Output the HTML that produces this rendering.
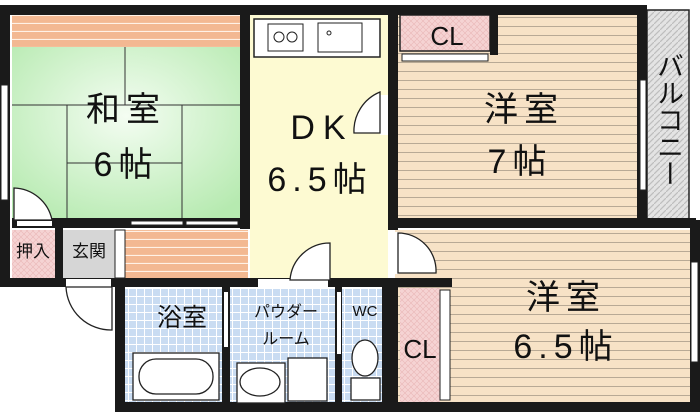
<!DOCTYPE html>
<html><head><meta charset="utf-8"><style>
html,body{margin:0;padding:0;background:#fff;width:700px;height:415px;overflow:hidden}
text{font-family:"Liberation Sans","Noto Sans CJK JP",sans-serif;fill:#111}
</style></head><body>
<svg width="700" height="415" viewBox="0 0 700 415" xmlns="http://www.w3.org/2000/svg">
<defs>
<pattern id="stripe" width="10" height="9" patternUnits="userSpaceOnUse"><rect width="10" height="9" fill="#f7e2c6"/><line x1="0" y1="8.5" x2="10" y2="8.5" stroke="#a89a88" stroke-width="0.8"/></pattern>
<pattern id="orange" width="10" height="8" patternUnits="userSpaceOnUse"><rect width="10" height="8" fill="#f3b892"/><line x1="0" y1="7.5" x2="10" y2="7.5" stroke="#fff1e6" stroke-width="1.2"/></pattern>
<pattern id="grid" width="8" height="8" patternUnits="userSpaceOnUse"><rect width="8" height="8" fill="#c9dcf2"/><path d="M0 .5H8M.5 0V8" stroke="#fff" stroke-width="1"/></pattern>
<pattern id="pink" width="6" height="6" patternUnits="userSpaceOnUse"><rect width="6" height="6" fill="#f5d3d3"/><path d="M0 0L6 6M6 0L0 6" stroke="#e9b7b7" stroke-width="0.6"/></pattern>
<pattern id="gray" width="6" height="6" patternUnits="userSpaceOnUse"><rect width="6" height="6" fill="#e3e3e3"/><path d="M0 6L6 0" stroke="#bdbdbd" stroke-width="1.2"/></pattern>
<radialGradient id="tat" cx="0.5" cy="0.4" r="0.7"><stop offset="0" stop-color="#f4fdf2"/><stop offset="1" stop-color="#b6eab0"/></radialGradient>
</defs>
<rect x="12" y="15" width="228" height="32" fill="url(#orange)"/>
<rect x="12" y="47" width="228" height="172" fill="url(#tat)"/>
<g stroke="#333" stroke-width="1" fill="none">
<line x1="12" y1="105" x2="240" y2="105"/><line x1="125" y1="47" x2="125" y2="105"/>
<line x1="67" y1="105" x2="67" y2="219"/><line x1="182" y1="105" x2="182" y2="219"/>
<line x1="67" y1="163" x2="182" y2="163"/>
</g>
<rect x="250" y="15" width="138" height="270" fill="#fdfad2"/>
<rect x="254" y="19" width="126" height="38" fill="#fff" stroke="#222" stroke-width="1.5"/>
<rect x="268" y="24" width="35" height="27" fill="#fff" stroke="#222"/>
<circle cx="279" cy="37" r="5" fill="none" stroke="#222"/><circle cx="292" cy="37" r="5" fill="none" stroke="#222"/>
<rect x="318" y="23" width="44" height="29" fill="#fff" stroke="#222"/><circle cx="329" cy="33" r="2" fill="none" stroke="#222"/>
<rect x="398" y="15" width="239" height="205" fill="url(#stripe)"/>
<rect x="400" y="15" width="90" height="36" fill="url(#pink)" stroke="#222" stroke-width="1.5"/>
<rect x="647" y="10" width="42" height="210" fill="url(#gray)" stroke="#222" stroke-width="1.5"/>
<rect x="395" y="230" width="295" height="173" fill="url(#stripe)"/>
<rect x="400" y="288" width="40" height="114" fill="url(#pink)"/>
<rect x="12" y="230" width="43" height="48" fill="url(#pink)"/>
<rect x="63" y="230" width="52" height="48" fill="#d6d6d6"/>
<rect x="125" y="230" width="123" height="48" fill="url(#orange)"/>
<rect x="125" y="289" width="263" height="114" fill="url(#grid)"/>
<g fill="#1a1a1a">
<rect x="0" y="5" width="645" height="10"/>
<rect x="0" y="5" width="10" height="282"/>
<rect x="240" y="5" width="10" height="224"/>
<rect x="388" y="5" width="10" height="225"/>
<rect x="637" y="5" width="10" height="222"/>
<rect x="12" y="218" width="236" height="10"/>
<rect x="398" y="218" width="298" height="10"/>
<rect x="0" y="278" width="452" height="9"/>
<rect x="55" y="228" width="8" height="52"/>
<rect x="115" y="278" width="10" height="134"/>
<rect x="115" y="402" width="585" height="10"/>
<rect x="690" y="220" width="10" height="192"/>
<rect x="222" y="287" width="8" height="118"/>
<rect x="335" y="287" width="7" height="118"/>
<rect x="382" y="287" width="16" height="118"/>
<rect x="490" y="15" width="8" height="40"/>
</g>
<rect x="1" y="85" width="7" height="115" fill="#fff" stroke="#222"/>
<rect x="115" y="230" width="10" height="48" fill="#fff" stroke="#222"/>
<rect x="131" y="221" width="52" height="4" fill="#fff" stroke="#222"/>
<rect x="186" y="221" width="52" height="4" fill="#fff" stroke="#222"/>
<rect x="258" y="279" width="70" height="8" fill="#fff"/>
<rect x="66" y="279" width="45" height="8" fill="#fff"/>
<rect x="17" y="221" width="35" height="5" fill="#fff"/>
<rect x="691" y="262" width="7" height="100" fill="#fff" stroke="#222"/>
<rect x="640" y="80" width="6" height="110" fill="#fff" stroke="#222"/>
<rect x="380" y="95" width="8" height="40" fill="#fff"/>
<rect x="392" y="232" width="7" height="42" fill="#fff"/>
<rect x="402" y="54" width="86" height="7" fill="#fff" stroke="#222"/>
<rect x="440" y="290" width="10" height="110" fill="#fff" stroke="#222"/>
<rect x="224" y="292" width="4" height="55" fill="#fff"/>
<rect x="337" y="292" width="4" height="62" fill="#fff"/>
<g fill="#fff" stroke="#222" stroke-width="1.3">
<path d="M14 188 A40 40 0 0 1 52 220 L14 220Z"/>
<path d="M380 92 A42 42 0 0 0 354 133 L380 133Z"/>
<path d="M330 243 A40 40 0 0 0 290 280 L330 280Z"/>
<path d="M398 233 A38 38 0 0 1 436 273 L398 273Z"/>
<path d="M66 287 A45 45 0 0 0 112 330 L112 287Z"/>
</g>
<g fill="#fff" stroke="#222" stroke-width="1.3">
<rect x="133" y="353" width="86" height="47"/><rect x="139" y="359" width="74" height="35" rx="17"/>
<rect x="237" y="363" width="48" height="40"/><ellipse cx="260" cy="382" rx="20" ry="14"/>
<rect x="288" y="358" width="39" height="43"/>
<ellipse cx="365" cy="358" rx="13" ry="18"/><rect x="351" y="378" width="29" height="22"/>
</g>
<g text-anchor="middle">
<text x="126" y="121" font-size="34" letter-spacing="6">和室</text>
<text x="126" y="176" font-size="34" letter-spacing="6">6帖</text>
<text x="322" y="139" font-size="34" letter-spacing="8">DK</text>
<text x="320" y="191" font-size="34" letter-spacing="6">6.5帖</text>
<text x="524" y="121" font-size="34" letter-spacing="6">洋室</text>
<text x="520" y="173" font-size="34" letter-spacing="6">7帖</text>
<text x="566" y="309" font-size="34" letter-spacing="6">洋室</text>
<text x="566" y="358" font-size="34" letter-spacing="6">6.5帖</text>
<text x="447" y="45" font-size="26">CL</text>
<text x="420" y="358" font-size="26">CL</text>
<text x="33" y="257" font-size="17">押入</text>
<text x="89" y="257" font-size="17">玄関</text>
<text x="182" y="326" font-size="25">浴室</text>
<text x="286" y="317" font-size="16">パウダー</text>
<text x="286" y="344" font-size="16">ルーム</text>
<text x="365" y="316" font-size="15">WC</text>
</g>
<text x="668" y="52" font-size="27" writing-mode="tb" glyph-orientation-vertical="0" text-anchor="start">バルコニー</text>
</svg>
</body></html>
